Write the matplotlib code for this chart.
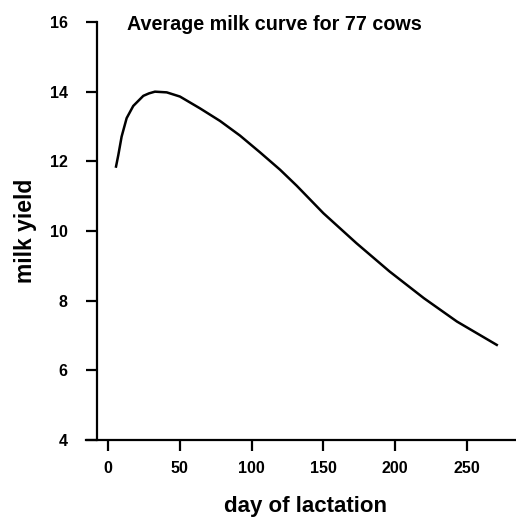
import matplotlib
matplotlib.use('Agg')
import matplotlib.pyplot as plt

# values
dias = [5.6, 7.2, 9.5, 13.0, 17.6, 24.6, 28.5, 32.7, 40.9, 50.1, 64.1, 78.0, 91.9,
        105.8, 119.8, 131.4, 150.0, 173.0, 196.0, 220.0, 243.0, 270.7]
leite = [11.85, 12.18, 12.71, 13.24, 13.59, 13.88, 13.95, 14.0, 13.98, 13.86, 13.52,
         13.16, 12.74, 12.26, 11.76, 11.30, 10.51, 9.65, 8.84, 8.07, 7.40, 6.73]
xticks = [0, 50, 100, 150, 200, 250]
yticks = [4, 6, 8, 10, 12, 14, 16]

plt.rcParams['font.family'] = ['Liberation Sans', 'DejaVu Sans']
plt.rcParams['font.weight'] = 'bold'

fig = plt.figure(figsize=(5.16, 5.18), dpi=100)
W, H = 516, 518
ax = fig.add_axes([86 / W, 1 - 440 / H, (515 - 86) / W, (440 - 22) / H])

ax.plot(dias, leite, color='black', linewidth=1.8, solid_joinstyle='round')

ax.set_xlim(-15.3, 283.4)
ax.set_ylim(4, 16)
ax.spines['top'].set_visible(False)
ax.spines['right'].set_visible(False)
ax.spines['left'].set_position(('data', -7.7))
ax.spines['left'].set_linewidth(1.6)
ax.spines['bottom'].set_linewidth(1.6)
ax.set_xticks(xticks)
ax.set_yticks(yticks)
ax.tick_params(axis='both', length=8, width=1.6, labelsize=11.5)
ax.tick_params(axis='y', pad=13)
ax.tick_params(axis='x', pad=7)

fig.text(127 / W, 1 - 30 / H, 'Average milk curve for 77 cows', fontsize=14.2,
         ha='left', va='baseline')
fig.text(305 / W, 1 - 512 / H, 'day of lactation', fontsize=16, ha='center',
         va='baseline')
fig.text(25.5 / W, 1 - 231 / H, 'milk yield', fontsize=16.5, ha='center', va='center',
         rotation=90)

fig.savefig('out.png', dpi=100)
